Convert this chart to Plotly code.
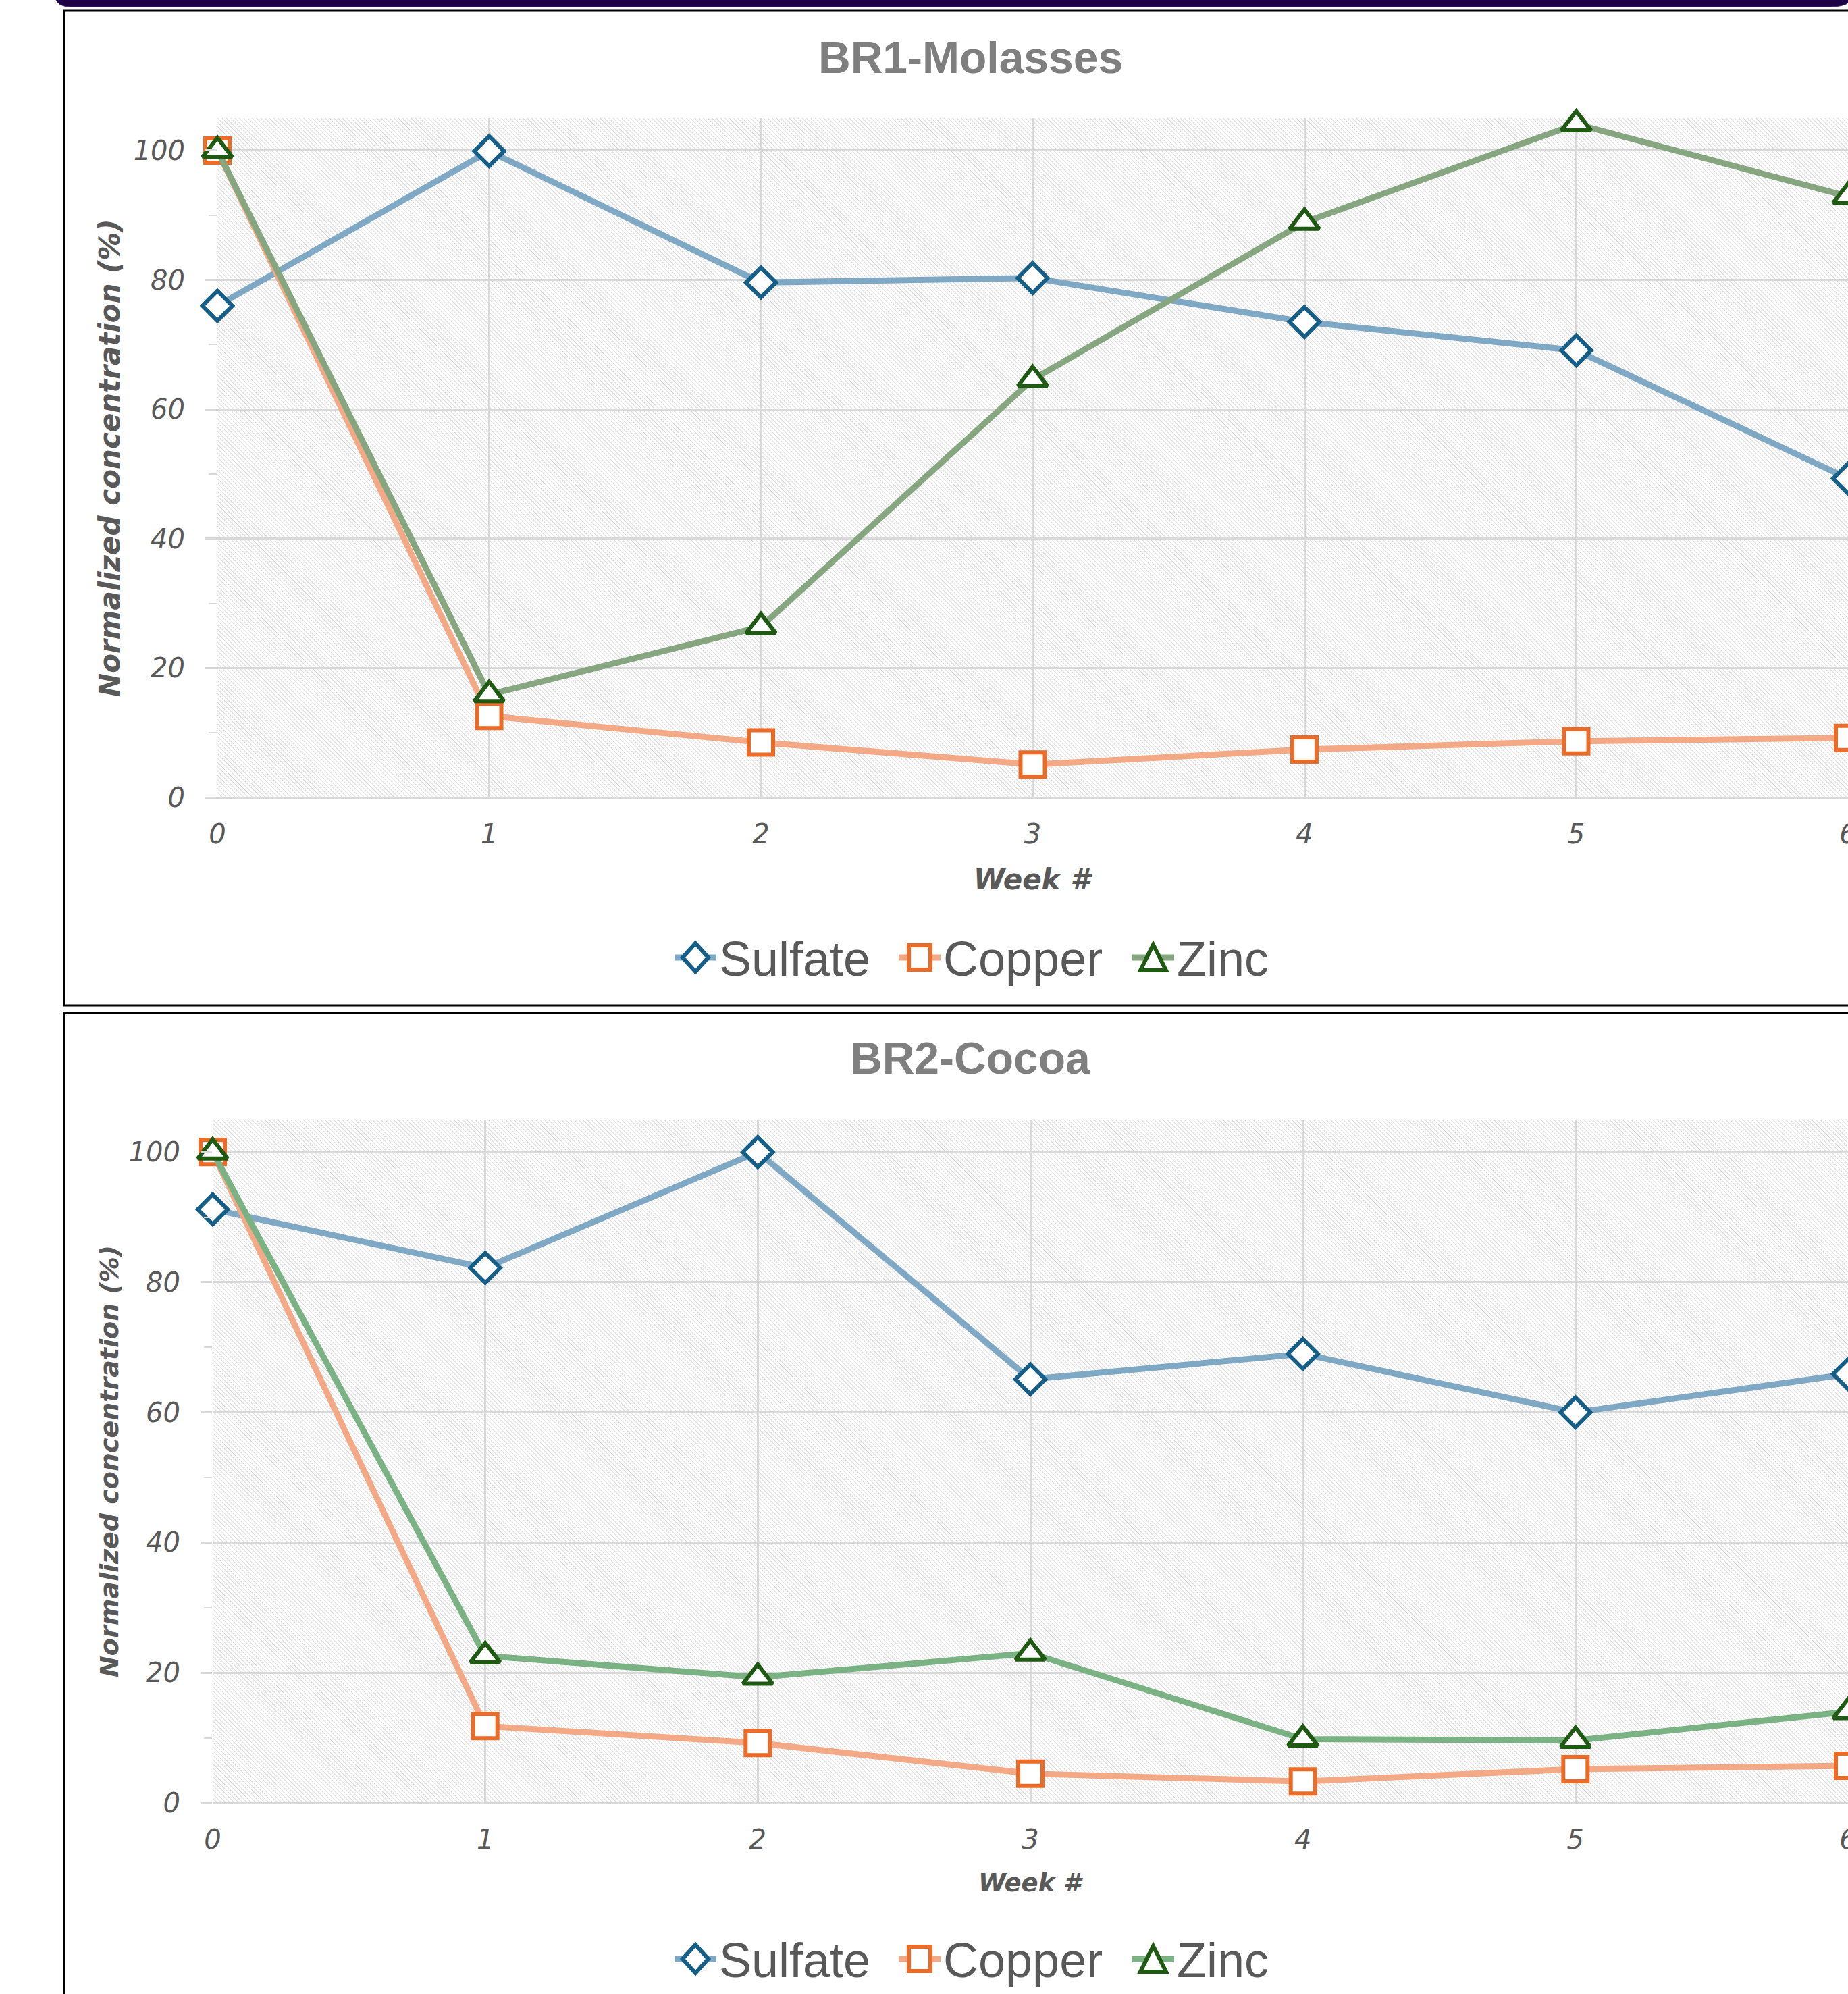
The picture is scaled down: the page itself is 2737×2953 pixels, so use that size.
import base64
import plotly.graph_objects as go

W, H = 2737, 2953

# ---- data -------------------------------------------------------------
weeks = [0, 1, 2, 3, 4, 5, 6]
week_labels = ["0", "1", "2", "3", "4", "5", "6"]
y_ticks = [0, 20, 40, 60, 80, 100]
series_names = ["Sulfate", "Copper", "Zinc"]
panel_titles = ["BR1-Molasses", "BR2-Cocoa"]

br1_sulfate = [76.0, 99.9, 79.6, 80.3, 73.5, 69.1, 49.3]
br1_copper = [100.0, 12.6, 8.5, 5.1, 7.4, 8.7, 9.2]
br1_zinc = [100.0, 15.9, 26.4, 64.6, 88.9, 104.1, 92.9]

br2_sulfate = [91.2, 82.2, 100.0, 65.1, 69.0, 60.0, 65.9]
br2_copper = [100.0, 11.8, 9.2, 4.5, 3.3, 5.2, 5.7]
br2_zinc = [100.0, 22.6, 19.3, 23.0, 9.8, 9.6, 14.0]

# ---- styling ----------------------------------------------------------
GRID = "#D9D9D9"
TXT = "#595959"
TITLE_GREY = "#7F7F7F"
marker_edge = {"Sulfate": "#155E88", "Copper": "#EA6C28", "Zinc": "#1F5A12"}
marker_symbol = {"Sulfate": "diamond", "Copper": "square", "Zinc": "triangle-up"}
marker_size = {"Sulfate": 34, "Copper": 36, "Zinc": 38}
line_col = [
    {"Sulfate": "#7FA8C4", "Copper": "#F3A985", "Zinc": "#86A680"},
    {"Sulfate": "#7FA8C4", "Copper": "#F3A985", "Zinc": "#7BB283"},
]


def fx(px):
    return px / W


def fy(py):
    return 1 - py / H


# pixel geometry of each panel's plot area and surrounding text
panels = [
    dict(x0=322, top=175, bottom=1181, title_y=85, week_y=1302, legend_y=1418,
         ytitle_size=42, week_size=42, series=[br1_sulfate, br1_copper, br1_zinc]),
    dict(x0=315, top=1658, bottom=2670, title_y=1567, week_y=2788, legend_y=2901,
         ytitle_size=38, week_size=37, series=[br2_sulfate, br2_copper, br2_zinc]),
]

fig = go.Figure()
layout_axes = {}
annotations = []
shapes = []
images = []


def hatch_uri(w, h):
    svg = (
        f'<svg xmlns="http://www.w3.org/2000/svg" width="{w}" height="{h}">'
        '<defs><pattern id="p" width="4.5" height="4.5" patternUnits="userSpaceOnUse" '
        'patternTransform="rotate(-45)">'
        '<rect width="4.5" height="4.5" fill="#ffffff"/>'
        '<line x1="0" y1="0" x2="0" y2="4.5" stroke="#C6C6C6" stroke-width="1.3"/>'
        '</pattern></defs>'
        '<rect width="100%" height="100%" fill="url(#p)"/></svg>'
    )
    return "data:image/svg+xml;base64," + base64.b64encode(svg.encode()).decode()


for i, p in enumerate(panels):
    sfx = "" if i == 0 else str(i + 1)
    xa, ya = "x" + sfx, "y" + sfx

    for name, vals in zip(series_names, p["series"]):
        fig.add_trace(go.Scatter(
            x=weeks, y=vals, name=name, mode="lines+markers",
            xaxis=xa, yaxis=ya, showlegend=False, cliponaxis=False,
            line=dict(color=line_col[i][name], width=9),
            marker=dict(symbol=marker_symbol[name], size=marker_size[name],
                        color="white",
                        line=dict(color=marker_edge[name], width=6)),
        ))

    tick_font = dict(family="DejaVu Sans", size=40, color=TXT, style="italic")
    layout_axes["xaxis" + sfx] = dict(
        domain=[fx(p["x0"]), 1], range=[0, 6], anchor=ya,
        tickmode="array", tickvals=weeks, ticktext=week_labels,
        showgrid=True, gridcolor=GRID, gridwidth=2.5,
        zeroline=False, showline=False, ticks="",
        tickfont=tick_font, ticklabelstandoff=27, ticklabeloverflow="allow",
        automargin=False,
    )
    layout_axes["yaxis" + sfx] = dict(
        domain=[fy(p["bottom"]), fy(p["top"])], range=[0, 105], anchor=xa,
        tickmode="array", tickvals=y_ticks,
        showgrid=True, gridcolor=GRID, gridwidth=3,
        zeroline=True, zerolinecolor=GRID, zerolinewidth=3, showline=False,
        ticks="outside", ticklen=17, tickwidth=3, tickcolor=GRID,
        minor=dict(ticks="outside", ticklen=12, tickwidth=2, tickcolor=GRID,
                   dtick=10, tick0=0, showgrid=False),
        tickfont=tick_font, ticklabelstandoff=22, automargin=False,
    )

    # hatched plot-area fill
    pw, ph = W - p["x0"], p["bottom"] - p["top"]
    images.append(dict(
        source=hatch_uri(pw, ph), xref="paper", yref="paper",
        x=fx(p["x0"]), y=fy(p["top"]), sizex=pw / W, sizey=ph / H,
        xanchor="left", yanchor="top", sizing="stretch", layer="below",
    ))

    # chart title
    annotations.append(dict(
        text=panel_titles[i], xref="paper", yref="paper",
        x=fx(1437), y=fy(p["title_y"]), xanchor="center", yanchor="middle",
        showarrow=False,
        font=dict(family="Liberation Sans", size=66, color=TITLE_GREY, weight="bold"),
    ))
    # axis titles
    annotations.append(dict(
        text="Normalized concentration (%)", xref="paper", yref="paper",
        x=fx(162), y=fy((p["top"] + p["bottom"]) / 2), textangle=-90,
        xanchor="center", yanchor="middle", showarrow=False,
        font=dict(family="DejaVu Sans", size=p["ytitle_size"], color=TXT,
                  weight="bold", style="italic"),
    ))
    annotations.append(dict(
        text="Week #", xref="paper", yref="paper",
        x=fx((p["x0"] + W) / 2), y=fy(p["week_y"]),
        xanchor="center", yanchor="middle", showarrow=False,
        font=dict(family="DejaVu Sans", size=p["week_size"], color=TXT,
                  weight="bold", style="italic"),
    ))

    # legend: line stub, hollow symbol and label for each series
    ly = p["legend_y"]
    sym_x = {"Sulfate": 1030, "Copper": 1362, "Zinc": 1708}
    for name in series_names:
        cx = sym_x[name]
        shapes.append(dict(
            type="line", xref="paper", yref="paper",
            x0=fx(cx - 31), x1=fx(cx + 31), y0=fy(ly), y1=fy(ly),
            line=dict(color=line_col[i][name], width=9),
        ))
        if name == "Sulfate":
            pts = [(cx, ly - 21), (cx + 19, ly), (cx, ly + 21), (cx - 19, ly)]
        elif name == "Copper":
            pts = [(cx - 16, ly - 18), (cx + 16, ly - 18), (cx + 16, ly + 18), (cx - 16, ly + 18)]
        else:
            pts = [(cx, ly - 19), (cx + 19, ly + 19), (cx - 19, ly + 19)]
        path = "M " + " L ".join(f"{fx(a):.6f},{fy(b):.6f}" for a, b in pts) + " Z"
        shapes.append(dict(
            type="path", xref="paper", yref="paper", path=path,
            fillcolor="white", line=dict(color=marker_edge[name], width=6),
        ))
        annotations.append(dict(
            text=name, xref="paper", yref="paper",
            x=fx(cx + 33), y=fy(ly + 2), xanchor="left", yanchor="middle",
            showarrow=False,
            font=dict(family="Liberation Sans", size=72, color=TXT),
        ))

# panel frames
shapes.append(dict(type="rect", xref="paper", yref="paper",
                   x0=fx(95), x1=fx(2800), y0=fy(16), y1=fy(1489),
                   line=dict(color="black", width=3), fillcolor="rgba(0,0,0,0)"))
shapes.append(dict(type="rect", xref="paper", yref="paper",
                   x0=fx(95), x1=fx(2800), y0=fy(1500), y1=fy(3050),
                   line=dict(color="black", width=4), fillcolor="rgba(0,0,0,0)"))

# dark header band across the top
band_path = (
    f"M {fx(82):.6f},{fy(-2):.6f} L {fx(2742):.6f},{fy(-2):.6f} "
    f"Q {fx(2738):.6f},{fy(10):.6f} {fx(2712):.6f},{fy(10):.6f} "
    f"L {fx(104):.6f},{fy(10):.6f} "
    f"Q {fx(86):.6f},{fy(10):.6f} {fx(82):.6f},{fy(-2):.6f} Z"
)
shapes.append(dict(type="path", xref="paper", yref="paper", path=band_path,
                   fillcolor="#1E0046", line=dict(color="#3A2468", width=1)))

fig.update_layout(
    width=W, height=H,
    margin=dict(l=0, r=0, t=0, b=0, autoexpand=False),
    paper_bgcolor="white", plot_bgcolor="rgba(0,0,0,0)",
    showlegend=False,
    annotations=annotations, shapes=shapes, images=images,
    **layout_axes,
)

fig.write_html("out.html")
